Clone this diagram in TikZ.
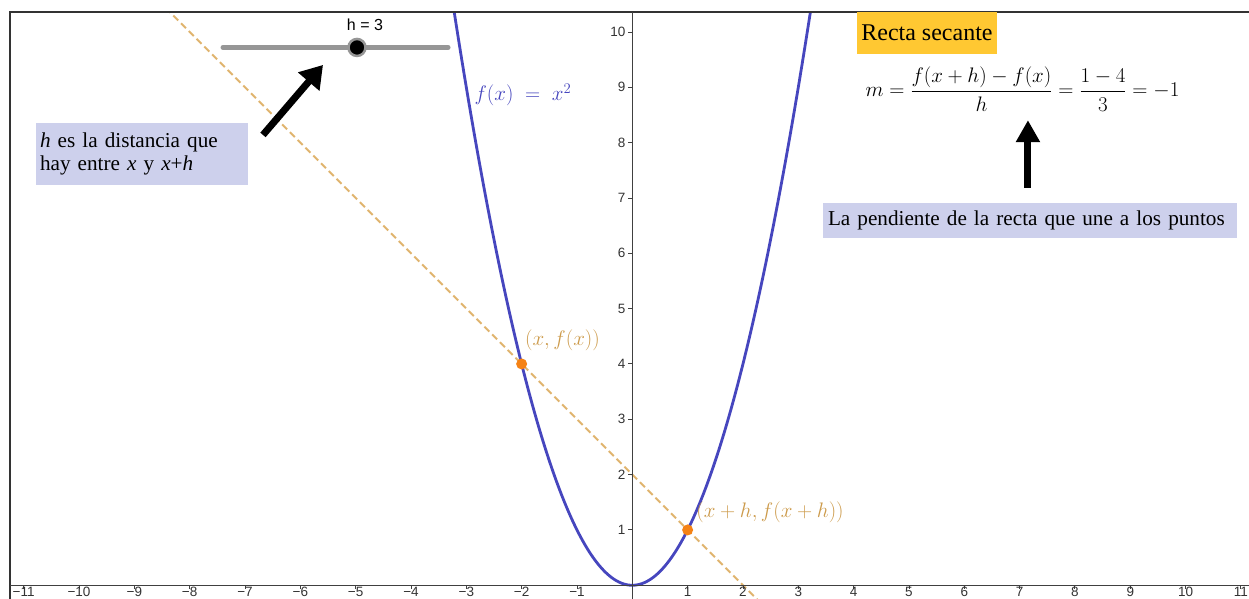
\RequirePackage{fix-cm}
\documentclass[tikz,border=0pt]{standalone}
\usepackage{fontspec}
\setmainfont{Liberation Serif}
\setsansfont{Liberation Sans}
\usetikzlibrary{arrows.meta}
\definecolor{lav}{RGB}{205,208,236}
\definecolor{gold}{RGB}{255,200,50}
\definecolor{parab}{RGB}{70,70,190}
\definecolor{secant}{RGB}{224,180,110}
\definecolor{dotc}{RGB}{245,130,20}
\definecolor{ptlbl}{RGB}{205,155,75}
\definecolor{slidergray}{RGB}{150,150,150}
\hyphenpenalty=10000
\exhyphenpenalty=10000
\begin{document}
\begin{tikzpicture}[x=55.33pt,y=55.33pt,
  ticklbl/.style={font=\sffamily\fontsize{13.5}{13.5}\selectfont, text=black!80, inner sep=0pt},
  axisline/.style={line width=0.9pt, black!75},
  note/.style={fill=lav, text=black, font=\fontsize{21.2}{23}\selectfont, inner ysep=0pt, align=left},
  bigarrow/.style={line width=7pt, black},
  mathlbl/.style={font=\fontsize{21}{25}\selectfont, inner sep=0pt},
  ptdot/.style={circle, fill=dotc, inner sep=0pt, minimum size=11pt}]
\useasboundingbox (-11.428,-0.248) rectangle (11.146,10.578);
\fill[white] (-11.428,-0.248) rectangle (11.146,10.578);
% secant and parabola, clipped to the frame
\begin{scope}
  \clip (-11.247,-0.248) rectangle (11.146,10.361);
  \draw[secant, line width=2pt, dash pattern=on 7pt off 4pt] plot[domain=-9:3, samples=2] (\x,{2-\x});
  \draw[parab, line width=2.8pt, line join=round] plot[domain=-3.3:3.3, samples=200, smooth] (\x,{\x*\x});
\end{scope}
% frame
\draw[line width=1.3pt, black!80] (-11.247,-0.248) -- (-11.247,10.361) -- (11.146,10.361);
% axes
\draw[axisline] (-11.247,0) -- (11.146,0);
\draw[axisline] (0,-0.248) -- (0,10.361);
\foreach \i in {1,...,11} {
  \draw[axisline] (\i,0) -- (\i,-0.07);
  \draw[axisline] (-\i,0) -- (-\i,-0.07);
  \node[ticklbl, anchor=north] (xp\i) at (\i,-0.035) {\i};
  \node[ticklbl, anchor=north] (xn\i) at (-\i,-0.035) {−\i};
}
\foreach \i in {1,...,10} {
  \draw[axisline] (0,\i) -- (-0.07,\i);
  \node[ticklbl, anchor=east] (yp\i) at (-0.12,\i) {\i};
}
% points
\node[ptdot] (A) at (-2,4) {};
\node[ptdot] (B) at (1,1) {};
\node[mathlbl, text=ptlbl] (Alab) at (-1.262,4.433) {$(x,f(x))$};
\node[mathlbl, text=ptlbl] (Blab) at (2.489,1.325) {$(x+h,f(x+h))$};
\node[mathlbl, text=parab] (flab) at (-1.976,8.861) {$f(x)\;=\;x^2$};
% slider
\coordinate (s1) at (-7.397,9.720);
\coordinate (s2) at (-3.330,9.720);
\draw[slidergray, line width=5pt, line cap=round] (s1) -- (s2);
\node[circle, fill=black, draw=slidergray, line width=2.5pt, inner sep=0pt, minimum size=17pt] (knob) at (-4.976,9.720) {};
\node[font=\sffamily\fontsize{16}{16}\selectfont, inner sep=0pt] (hlab) at (-4.831,10.127) {h = 3};
% arrow 1 and note
\coordinate (a1t) at (-6.675,8.139);
\coordinate (a1h) at (-5.590,9.404);
\draw[bigarrow, -{Triangle[width=27pt,length=22pt]}] (a1t) -- (a1h);
\node[note, text width=204pt, inner xsep=4pt, minimum height=62pt] (note1) at (-8.861,7.795)
  {\textit{h} es la distancia que\\hay entre \textit{x} y \textit{x}+\textit{h}};
% Recta secante
\node[fill=gold, font=\fontsize{24}{24}\selectfont, inner xsep=4pt, inner ysep=0pt, minimum width=140pt, minimum height=42pt] (title) at (5.326,9.982) {Recta secante};
\node[font=\fontsize{21}{25}\selectfont, inner sep=0pt] (formula) at (7.052,8.970)
  {$\displaystyle m=\frac{f(x+h)-f(x)}{h}=\frac{1-4}{3}=-1$};
% arrow 2 and note
\node[note, text width=404pt, inner xsep=5pt, minimum height=35pt] (note2) at (7.188,6.592)
  {La pendiente de la recta que une a los puntos};
\coordinate (a2t) at (7.151,7.181);
\coordinate (a2h) at (7.151,8.405);
\draw[bigarrow, -{Triangle[width=23pt,length=22pt]}] (a2t) -- (a2h);
\end{tikzpicture}
\end{document}
